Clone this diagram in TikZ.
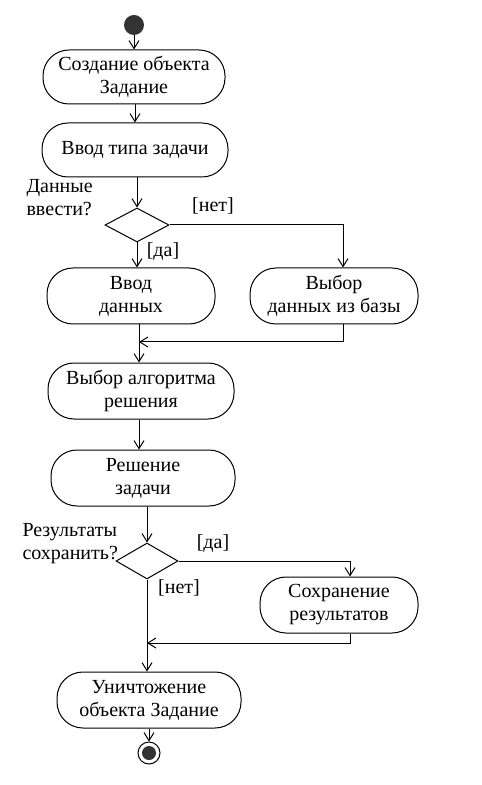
\documentclass[tikz,border=0pt]{standalone}
\usepackage{fontspec}
\setmainfont{Liberation Serif}
\usetikzlibrary{arrows.meta,shapes.geometric}

\begin{document}
\begin{tikzpicture}[x=0.5pt,y=-0.5pt,line width=0.5pt,>={Straight Barb[length=4pt,width=5pt]},
    font=\fontsize{10}{11.5}\selectfont,
    activity/.style={draw,rectangle,rounded corners=13pt,align=center,minimum height=28pt,inner sep=2pt},
    choice/.style={draw,diamond,minimum width=32pt,minimum height=17pt,inner sep=0pt},
    guard/.style={inner sep=1pt}]
  \useasboundingbox (0,0) rectangle (481,785);
  \node[circle,fill=black!80,minimum size=10pt,inner sep=0pt] (start) at (134, 25) {};
  \node[activity,minimum width=91pt,minimum height=27pt] (create)  at (134, 77)  {Создание объекта\\Задание};
  \node[activity,minimum width=93pt,minimum height=27pt] (type)    at (135, 150) {Ввод типа задачи};
  \node[choice]                                          (dec1)    at (137, 225) {};
  \node[activity,minimum width=84pt]                     (input)   at (131, 296) {Ввод\\данных};
  \node[activity,minimum width=84pt]                     (db)      at (334, 296) {Выбор\\данных из базы};
  \node[activity,minimum width=93pt]                     (algo)    at (141, 391) {Выбор алгоритма\\решения};
  \node[activity,minimum width=92pt]                     (solve)   at (143, 478) {Решение\\задачи};
  \node[choice,minimum width=31pt,minimum height=18pt]   (dec2)    at (147, 561) {};
  \node[activity,minimum width=79pt]                     (save)    at (339, 605) {Сохранение\\результатов};
  \node[activity,minimum width=92pt]                     (destroy) at (149, 700) {Уничтожение\\объекта Задание};
  \node[circle,draw,minimum size=11pt,inner sep=0pt]     (stop)    at (149, 753) {};
  \node[circle,fill=black!80,minimum size=7pt,inner sep=0pt] at (stop) {};

  \node[align=left,anchor=west,inner sep=0pt] (q1) at (26, 198) {Данные\\ввести?};
  \node[align=left,anchor=west,inner sep=0pt] (q2) at (22, 544) {Результаты\\сохранить?};
  \node[guard] (no1)  at (213, 206) {[нет]};
  \node[guard] (yes1) at (163, 251) {[да]};
  \node[guard] (yes2) at (213, 543) {[да]};
  \node[guard] (no2)  at (179, 588) {[нет]};

  \coordinate (m1) at (139, 342);
  \coordinate (m2) at (147, 643);

  \draw[->] (start) -- (create);
  \draw[->] (create.south -| type) -- (type.north);
  \draw[->] (type.south -| dec1) -- (dec1.north);
  \draw[->] (dec1.south) -- (dec1.south |- input.north);
  \draw[->] (dec1.east) -| ([xshift=4.5pt]db.north);
  \draw (input.south -| m1) -- (m1);
  \draw[->] ([xshift=4.5pt]db.south) |- (m1);
  \draw[->] (m1) -- (m1 |- algo.north);
  \draw[->] (algo.south -| m1) -- (m1 |- solve.north);
  \draw[->] (solve.south -| dec2) -- (dec2.north);
  \draw[->] (dec2.east) -| ([xshift=5.5pt]save.north);
  \draw (dec2.south) -- (m2);
  \draw[->] ([xshift=5.5pt]save.south) |- (m2);
  \draw[->] (m2) -- (m2 |- destroy.north);
  \draw[->] (destroy.south -| stop) -- (stop);
\end{tikzpicture}
\end{document}
